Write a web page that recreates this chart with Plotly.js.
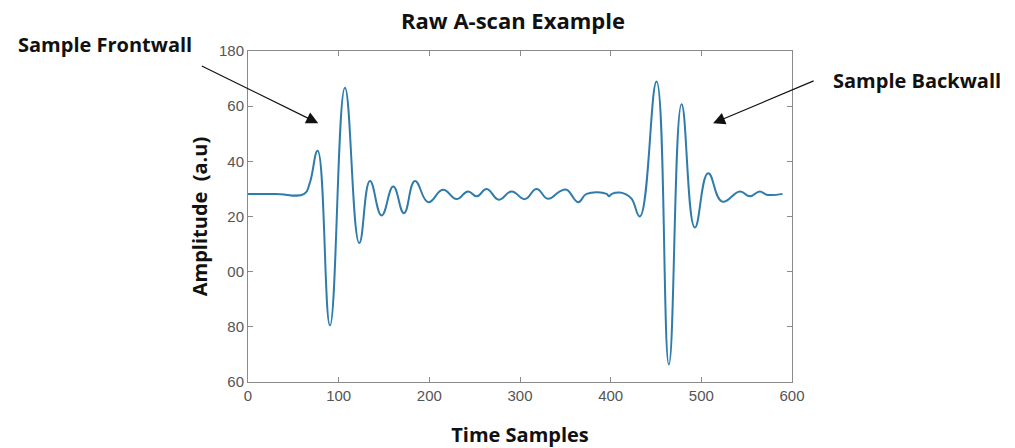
<!DOCTYPE html>
<html>
<head>
<meta charset="utf-8">
<script src="https://cdn.plot.ly/plotly-3.0.1.min.js"></script>
<style>html,body{margin:0;padding:0;background:#fff;}#chart{width:1015px;height:448px;}</style>
</head>
<body>
<div id="chart"></div>
<script>
// Time sample index of each read point
const samples = [0, 30, 62, 68, 76.8, 90.4, 106.9, 122.7, 134.5, 147.4, 160.2, 172, 184.1, 198.8,
  215, 230, 242.6, 252.5, 263.2, 276.7, 290.7, 305.4, 318.3, 330.8, 344, 351.4, 364.2, 373.4, 395.5, 398, 401.3, 410, 415.7,
  423, 432.2, 450.6, 464.2, 478.2, 492.8, 507.5, 523, 542.5, 553.5, 564.5, 571.9, 589.5];
// Amplitude (a.u) at each read point
const amplitude = [128.2, 128.2, 128.2, 132, 143.8, 80.5, 166.7, 110.4, 132.9, 120.4, 130.9, 121.2, 132.9, 125.2,
  129.7, 126.3, 129.1, 127.3, 130.0, 126.1, 129.1, 126.3, 130.0, 126.4, 129.1, 129.7, 125.2, 128.2, 128.2, 127.3, 128.2, 128.7, 128.2,
  126.5, 120.0, 168.9, 66.3, 160.7, 116.0, 135.7, 125.4, 129.1, 127.3, 129.1, 127.9, 128.2];

const xTicks = [0, 100, 200, 300, 400, 500, 600];
const yTickVals = [60, 80, 100, 120, 140, 160, 180];
const yTickText = ["60", "80", "00", "20", "40", "60", "180"];

const titleText = "Raw A-scan Example";
const xTitle = "Time Samples";
const yTitle = "Amplitude  (a.u)";
const frontLabel = "Sample Frontwall";
const backLabel = "Sample Backwall";
// arrow tips, in data units
const frontTip = {x: 77.5, y: 153.8};
const backTip = {x: 513, y: 153.8};

const fam = "Open Sans, Noto Sans, sans-serif";
const labelFont = {family: fam, size: 20, color: "#111", weight: 700};
const titleFont = {family: fam, size: 22, color: "#111", weight: 700};

const trace = {
  x: samples, y: amplitude, type: "scatter", mode: "lines",
  line: {color: "#2f7cac", width: 2, shape: "spline", smoothing: 1.3},
  hoverinfo: "skip"
};

const axisCommon = {
  showgrid: false, zeroline: false, showline: true, linecolor: "#8a8a8a", linewidth: 1,
  mirror: "allticks", ticks: "inside", ticklen: 5, tickcolor: "#8a8a8a",
  tickfont: {family: "Liberation Sans, Arial, sans-serif", size: 15, color: "#555"}
};

const L = 248, R = 223, T = 51, B = 66;
const plotW = 1015 - L - R, plotH = 448 - T - B;
const px = (v) => (v - L) / plotW;
const py = (v) => (448 - B - v) / plotH;

const layout = {
  width: 1015, height: 448,
  margin: {l: L, r: R, t: T, b: B},
  paper_bgcolor: "#fff", plot_bgcolor: "#fff",
  showlegend: false,
  title: {text: titleText, font: titleFont, x: px(513), xref: "paper", y: 1 - 21 / 448, yref: "container", xanchor: "center", yanchor: "middle"},
  xaxis: Object.assign({}, axisCommon, {
    range: [0, 600], tickvals: xTicks, ticktext: xTicks.map(String),
    title: {text: xTitle, font: labelFont, standoff: 24}
  }),
  yaxis: Object.assign({}, axisCommon, {
    range: [60, 180], tickvals: yTickVals, ticktext: yTickText,
    title: {text: yTitle, font: labelFont, standoff: 5}
  }),
  annotations: [
    {x: frontTip.x, y: frontTip.y, xref: "x", yref: "y", text: "", showarrow: true,
     ax: -118, ay: -58, arrowhead: 2, arrowsize: 2, arrowwidth: 1.2, arrowcolor: "#111", standoff: 0},
    {x: backTip.x, y: backTip.y, xref: "x", yref: "y", text: "", showarrow: true,
     ax: 102, ay: -43, arrowhead: 2, arrowsize: 2, arrowwidth: 1.2, arrowcolor: "#111", standoff: 0},
    {x: px(104.5), y: py(45), xref: "paper", yref: "paper", text: frontLabel, showarrow: false,
     font: labelFont, xanchor: "center", yanchor: "middle"},
    {x: px(916.5), y: py(80), xref: "paper", yref: "paper", text: backLabel, showarrow: false,
     font: labelFont, xanchor: "center", yanchor: "middle"}
  ]
};

Plotly.newPlot("chart", [trace], layout, {displayModeBar: false, staticPlot: true});
</script>
</body>
</html>
